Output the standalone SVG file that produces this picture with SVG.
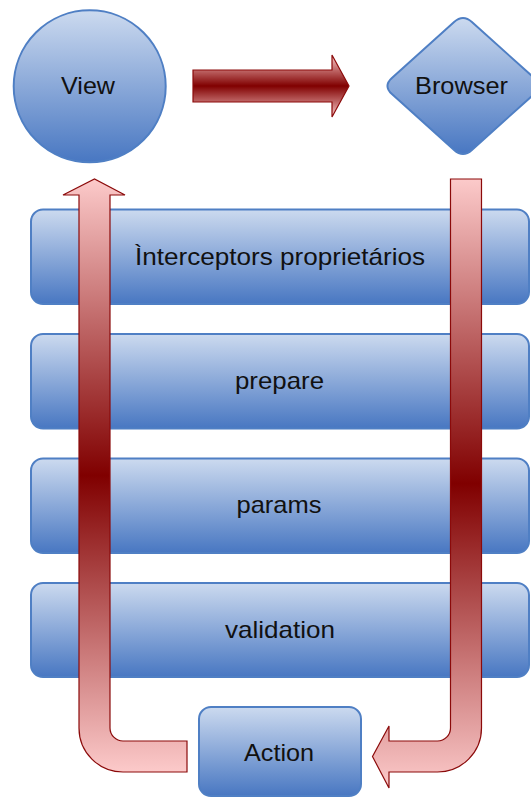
<svg xmlns="http://www.w3.org/2000/svg" width="531" height="798" viewBox="0 0 531 798">
<defs>
<linearGradient id="blue" x1="0" y1="0" x2="0" y2="1">
<stop offset="0" stop-color="#CCDAEF"/>
<stop offset="1" stop-color="#4877C2"/>
</linearGradient>
<linearGradient id="red" x1="0" y1="0" x2="0" y2="1">
<stop offset="0" stop-color="#FCCACA"/>
<stop offset="0.5" stop-color="#800000"/>
<stop offset="1" stop-color="#FCCACA"/>
</linearGradient>
<style>
.node{fill:url(#blue);stroke:#4F7FC4;stroke-width:2}
.arrow{fill:url(#red);stroke:#8B0A0A;stroke-width:1.2;stroke-linejoin:miter}
.lbl{font-family:"Liberation Sans",Arial,sans-serif;font-size:24px;fill:#111;text-anchor:middle}
</style>
</defs>
<g id="bars">
<g id="interceptors"><rect class="node" x="31" y="209.5" width="498" height="94.5" rx="12"/><text class="lbl" x="280" y="265" textLength="290" lengthAdjust="spacingAndGlyphs">Ìnterceptors proprietários</text></g>
<g id="prepare"><rect class="node" x="31" y="334" width="498" height="94.5" rx="12"/><text class="lbl" x="279.5" y="388.5" textLength="89" lengthAdjust="spacingAndGlyphs">prepare</text></g>
<g id="params"><rect class="node" x="31" y="458.5" width="498" height="94.5" rx="12"/><text class="lbl" x="279" y="512.5" textLength="85" lengthAdjust="spacingAndGlyphs">params</text></g>
<g id="validation"><rect class="node" x="31" y="583" width="498" height="94" rx="12"/><text class="lbl" x="280" y="637.5" textLength="110" lengthAdjust="spacingAndGlyphs">validation</text></g>
</g>
<g id="view"><circle class="node" cx="89.7" cy="86.3" r="76"/><text class="lbl" x="88" y="94.3" textLength="54" lengthAdjust="spacingAndGlyphs">View</text></g>
<g id="browser"><path class="node" d="M454.1,22.1 Q463,14 471.9,22.1 L534.1,77.9 Q543,86 534.1,94.1 L471.9,149.9 Q463,158 454.1,149.9 L391.9,94.1 Q383,86 391.9,77.9 Z"/><text class="lbl" x="461.5" y="94.3" textLength="93" lengthAdjust="spacingAndGlyphs">Browser</text></g>
<g id="action"><rect class="node" x="199" y="707" width="162" height="89" rx="12"/><text class="lbl" x="279" y="760.7" textLength="70" lengthAdjust="spacingAndGlyphs">Action</text></g>
<g id="connectors">
<path class="arrow" d="M193,70 L332,70 L332,55 L349,86 L332,117 L332,102 L193,102 Z"/>
<path class="arrow" d="M187,741 L123,741 A13,13 0 0 1 110,728 L110,195 L125,195 L94.5,179 L63,195 L79,195 L79,728 A44,44 0 0 0 123,772 L187,772 Z"/>
<path class="arrow" d="M450.5,179 L481.5,179 L481.5,728 A44,44 0 0 1 437.5,772 L389,772 L389,788 L372.5,756.5 L389,726 L389,741 L437.5,741 A13,13 0 0 0 450.5,728 Z"/>
</g>
</svg>
